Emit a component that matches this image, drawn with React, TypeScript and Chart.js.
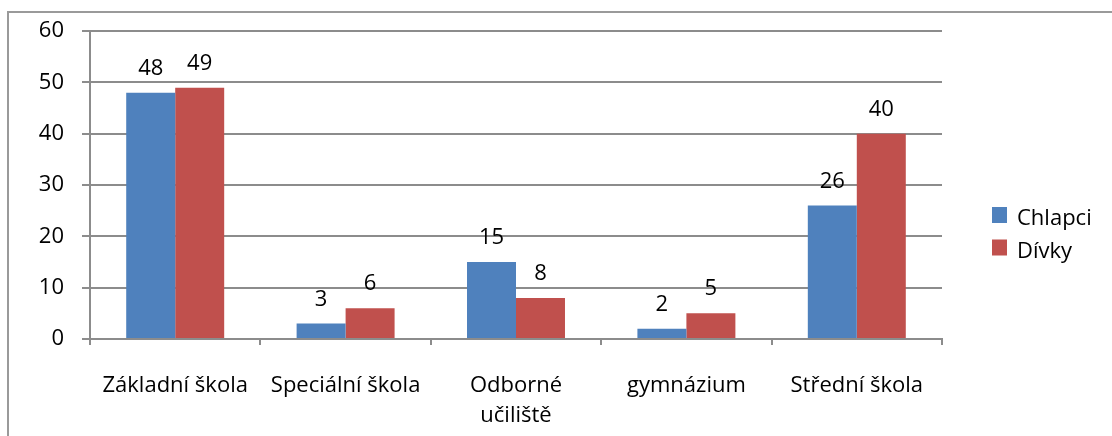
import React, { useEffect, useRef } from "react";
import { Chart, registerables } from "chart.js";

Chart.register(...registerables);

const categories: (string | string[])[] = [
  "Základní škola",
  "Speciální škola",
  ["Odborné", "učiliště"],
  "gymnázium",
  "Střední škola",
];
const chlapci: number[] = [48, 3, 15, 2, 26];
const divky: number[] = [49, 6, 8, 5, 40];
const seriesNames: string[] = ["Chlapci", "Dívky"];
const seriesColors: string[] = ["#4F81BD", "#C0504D"];
const yTicks = { min: 0, max: 60, step: 10 };

const FONT = "'Open Sans', sans-serif";
const GRID = "#8c8c8c";

const valueLabels = {
  id: "valueLabels",
  afterDatasetsDraw(chart: any) {
    const ctx = chart.ctx;
    ctx.save();
    ctx.font = `22px ${FONT}`;
    ctx.fillStyle = "#000";
    ctx.textAlign = "center";
    ctx.textBaseline = "alphabetic";
    chart.data.datasets.forEach((ds: any, i: number) => {
      const meta = chart.getDatasetMeta(i);
      meta.data.forEach((el: any, j: number) => {
        ctx.fillText(String(ds.data[j]), el.x, el.y - 18);
      });
    });
    ctx.restore();
  },
};

const sideLegend = {
  id: "sideLegend",
  afterDraw(chart: any) {
    const ctx = chart.ctx;
    ctx.save();
    ctx.font = `22px ${FONT}`;
    ctx.textAlign = "left";
    ctx.textBaseline = "alphabetic";
    chart.data.datasets.forEach((ds: any, i: number) => {
      const top = 207 + i * 32.5;
      ctx.fillStyle = ds.backgroundColor;
      ctx.fillRect(992, top, 15, 16);
      ctx.fillStyle = "#000";
      ctx.fillText(ds.label, 1017, top + 18);
    });
    ctx.restore();
  },
};

export default function App() {
  const ref = useRef<HTMLCanvasElement>(null);
  useEffect(() => {
    if (!ref.current) return;
    const chart = new Chart(ref.current, {
      type: "bar",
      data: {
        labels: categories,
        datasets: [
          {
            label: seriesNames[0],
            data: chlapci,
            backgroundColor: seriesColors[0],
            categoryPercentage: 0.575,
            barPercentage: 1,
          },
          {
            label: seriesNames[1],
            data: divky,
            backgroundColor: seriesColors[1],
            categoryPercentage: 0.575,
            barPercentage: 1,
          },
        ],
      },
      options: {
        animation: false,
        responsive: false,
        layout: { padding: { top: 29, right: 170, left: 0, bottom: 0 } },
        plugins: { legend: { display: false }, tooltip: { enabled: false } },
        scales: {
          x: {
            afterFit: (s: any) => {
              s.height = 97;
            },
            grid: {
              offset: true,
              drawOnChartArea: false,
              drawTicks: true,
              tickLength: 6,
              color: GRID,
              lineWidth: 2,
            },
            border: { display: true, color: GRID, width: 2 },
            ticks: {
              color: "#000",
              font: { family: FONT, size: 22, lineHeight: 1.4 },
              padding: 25,
              maxRotation: 0,
              autoSkip: false,
            },
          },
          y: {
            min: yTicks.min,
            max: yTicks.max,
            afterFit: (s: any) => {
              s.width = 90;
            },
            grid: { color: GRID, lineWidth: 2, tickLength: 8, drawTicks: true },
            border: { display: true, color: GRID, width: 2 },
            ticks: {
              stepSize: yTicks.step,
              color: "#000",
              font: { family: FONT, size: 22 },
              padding: 18,
            },
          },
        },
      },
      plugins: [valueLabels, sideLegend],
    });
    return () => chart.destroy();
  }, []);

  return (
    <div
      style={{
        position: "fixed",
        left: 0,
        top: 0,
        width: 1112,
        height: 436,
        overflow: "hidden",
        background: "#fff",
      }}
    >
      <div
        style={{
          position: "absolute",
          left: 7,
          top: 11,
          width: 1300,
          height: 600,
          borderLeft: "2px solid #9a9a9a",
          borderTop: "2px solid #9a9a9a",
        }}
      />
      <canvas
        ref={ref}
        width={1112}
        height={436}
        style={{ position: "absolute", left: 0, top: 0 }}
      />
    </div>
  );
}
